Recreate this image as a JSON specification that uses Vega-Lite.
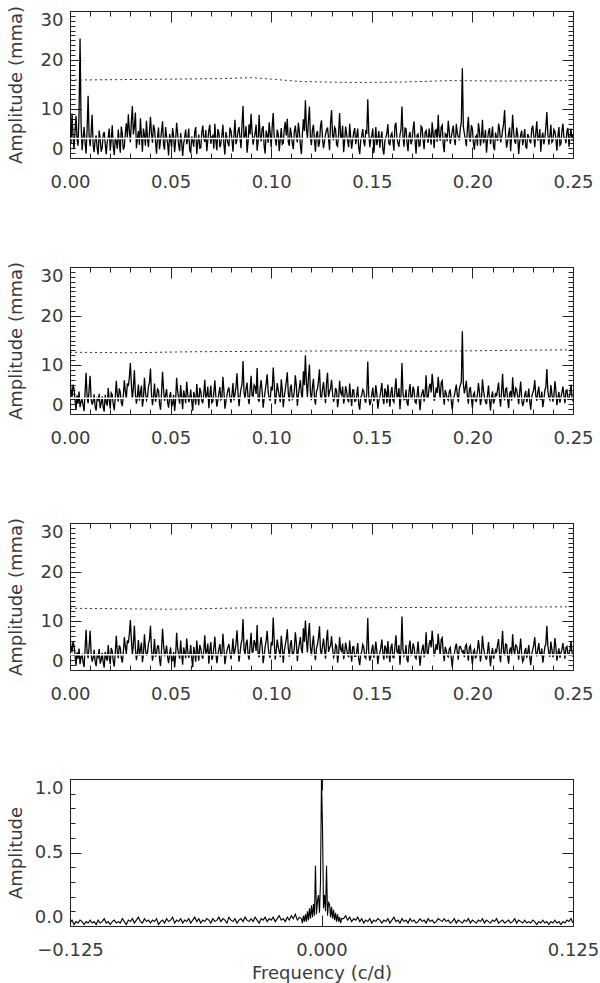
{
"$schema": "https://vega.github.io/schema/vega-lite/v6.json",
"background": "white",
"padding": {"left": 6, "top": 4, "right": 0, "bottom": 0},
"spacing": 109,
"bounds": "flush",
"config": {
  "view": {"stroke": "#222", "strokeWidth": 1},
  "axis": {"domain": false, "grid": false, "tickColor": "#222", "tickWidth": 1, "labelFont": "DejaVu Sans", "labelFontSize": 18, "labelColor": "#3a3a3a", "titleFont": "DejaVu Sans", "titleFontSize": 18, "titleFontWeight": "normal", "titleColor": "#3a3a3a", "labelOverlap": false}
},
"datasets": {
"s1": [{"f":0,"a":5.2},{"f":0.0005,"a":3.0},{"f":0.001,"a":9.1},{"f":0.0015,"a":4.4},{"f":0.002,"a":1.8},{"f":0.0025,"a":5.5},{"f":0.003,"a":8.6},{"f":0.0035,"a":3.9},{"f":0.004,"a":2.5},{"f":0.0045,"a":9.0},
{"f":0.005,"a":24.4},{"f":0.0055,"a":7.2},{"f":0.006,"a":1.6},{"f":0.0065,"a":4.0},{"f":0.007,"a":6.3},{"f":0.0075,"a":3.1},{"f":0.008,"a":0.9},{"f":0.0085,"a":5.8},{"f":0.009,"a":12.7},{"f":0.0095,"a":4.5},
{"f":0.01,"a":2.4},{"f":0.0105,"a":5.1},{"f":0.011,"a":8.8},{"f":0.0115,"a":2.6},{"f":0.012,"a":1.2},{"f":0.0125,"a":3.8},{"f":0.013,"a":4.6},{"f":0.0135,"a":2.0},{"f":0.014,"a":0.7},{"f":0.0145,"a":5.6},
{"f":0.015,"a":3.9},{"f":0.0155,"a":1.3},{"f":0.016,"a":2.1},{"f":0.0165,"a":4.7},{"f":0.017,"a":5.3},{"f":0.0175,"a":2.9},{"f":0.018,"a":0.8},{"f":0.0185,"a":3.3},{"f":0.019,"a":4.2},{"f":0.0195,"a":6.0},
{"f":0.02,"a":1.5},{"f":0.0205,"a":3.7},{"f":0.021,"a":6.7},{"f":0.0215,"a":2.4},{"f":0.022,"a":0.6},{"f":0.0225,"a":4.1},{"f":0.023,"a":3.4},{"f":0.0235,"a":1.9},{"f":0.024,"a":5.8},{"f":0.0245,"a":3.2},
{"f":0.025,"a":1.1},{"f":0.0255,"a":6.4},{"f":0.026,"a":4.9},{"f":0.0265,"a":1.7},{"f":0.027,"a":2.3},{"f":0.0275,"a":5.0},{"f":0.028,"a":7.1},{"f":0.0285,"a":4.2},{"f":0.029,"a":8.9},{"f":0.0295,"a":5.6},
{"f":0.03,"a":3.2},{"f":0.0305,"a":7.4},{"f":0.031,"a":10.6},{"f":0.0315,"a":4.8},{"f":0.032,"a":6.4},{"f":0.0325,"a":9.3},{"f":0.033,"a":2.0},{"f":0.0335,"a":3.9},{"f":0.034,"a":5.5},{"f":0.0345,"a":2.7},
{"f":0.035,"a":8.1},{"f":0.0355,"a":4.6},{"f":0.036,"a":1.3},{"f":0.0365,"a":6.0},{"f":0.037,"a":4.7},{"f":0.0375,"a":2.5},{"f":0.038,"a":7.6},{"f":0.0385,"a":4.0},{"f":0.039,"a":2.2},{"f":0.0395,"a":5.3},
{"f":0.04,"a":8.4},{"f":0.0405,"a":4.9},{"f":0.041,"a":3.1},{"f":0.0415,"a":6.8},{"f":0.042,"a":5.9},{"f":0.0425,"a":3.4},{"f":0.043,"a":0.9},{"f":0.0435,"a":4.2},{"f":0.044,"a":6.2},{"f":0.0445,"a":1.8},
{"f":0.045,"a":3.6},{"f":0.0455,"a":5.5},{"f":0.046,"a":7.5},{"f":0.0465,"a":2.6},{"f":0.047,"a":1.7},{"f":0.0475,"a":6.3},{"f":0.048,"a":4.4},{"f":0.0485,"a":3.0},{"f":0.049,"a":0.5},{"f":0.0495,"a":4.9},
{"f":0.05,"a":3.8},{"f":0.0505,"a":2.2},{"f":0.051,"a":6.1},{"f":0.0515,"a":4.5},{"f":0.052,"a":1.2},{"f":0.0525,"a":3.6},{"f":0.053,"a":7.2},{"f":0.0535,"a":5.0},{"f":0.054,"a":2.6},{"f":0.0545,"a":1.4},
{"f":0.055,"a":5.1},{"f":0.0555,"a":3.3},{"f":0.056,"a":0.4},{"f":0.0565,"a":2.9},{"f":0.057,"a":4.3},{"f":0.0575,"a":5.8},{"f":0.058,"a":2.8},{"f":0.0585,"a":3.7},{"f":0.059,"a":6.0},{"f":0.0595,"a":1.6},
{"f":0.06,"a":1.0},{"f":0.0605,"a":4.4},{"f":0.061,"a":3.5},{"f":0.0615,"a":2.3},{"f":0.062,"a":5.4},{"f":0.0625,"a":6.3},{"f":0.063,"a":0.8},{"f":0.0635,"a":3.1},{"f":0.064,"a":4.8},{"f":0.0645,"a":2.0},
{"f":0.065,"a":2.1},{"f":0.0655,"a":5.2},{"f":0.066,"a":6.6},{"f":0.0665,"a":4.0},{"f":0.067,"a":3.3},{"f":0.0675,"a":5.7},{"f":0.068,"a":1.4},{"f":0.0685,"a":3.6},{"f":0.069,"a":5.7},{"f":0.0695,"a":6.8},
{"f":0.07,"a":2.9},{"f":0.0705,"a":4.3},{"f":0.071,"a":4.6},{"f":0.0715,"a":1.9},{"f":0.072,"a":7.0},{"f":0.0725,"a":3.5},{"f":0.073,"a":1.6},{"f":0.0735,"a":5.9},{"f":0.074,"a":5.2},{"f":0.0745,"a":2.2},
{"f":0.075,"a":3.0},{"f":0.0755,"a":4.7},{"f":0.076,"a":6.8},{"f":0.0765,"a":2.7},{"f":0.077,"a":0.7},{"f":0.0775,"a":5.3},{"f":0.078,"a":4.1},{"f":0.0785,"a":3.0},{"f":0.079,"a":2.4},{"f":0.0795,"a":6.2},
{"f":0.08,"a":5.6},{"f":0.0805,"a":3.8},{"f":0.081,"a":1.3},{"f":0.0815,"a":4.6},{"f":0.082,"a":7.8},{"f":0.0825,"a":2.8},{"f":0.083,"a":3.7},{"f":0.0835,"a":5.5},{"f":0.084,"a":6.3},{"f":0.0845,"a":4.1},
{"f":0.085,"a":2.0},{"f":0.0855,"a":7.0},{"f":0.086,"a":10.6},{"f":0.0865,"a":3.9},{"f":0.087,"a":4.5},{"f":0.0875,"a":6.5},{"f":0.088,"a":1.1},{"f":0.0885,"a":3.2},{"f":0.089,"a":6.9},{"f":0.0895,"a":4.8},
{"f":0.09,"a":9.0},{"f":0.0905,"a":5.3},{"f":0.091,"a":2.7},{"f":0.0915,"a":4.0},{"f":0.092,"a":5.0},{"f":0.0925,"a":6.8},{"f":0.093,"a":1.5},{"f":0.0935,"a":3.4},{"f":0.094,"a":8.8},{"f":0.0945,"a":4.5},
{"f":0.095,"a":3.4},{"f":0.0955,"a":6.0},{"f":0.096,"a":6.5},{"f":0.0965,"a":2.4},{"f":0.097,"a":0.9},{"f":0.0975,"a":5.6},{"f":0.098,"a":4.7},{"f":0.0985,"a":3.1},{"f":0.099,"a":7.3},{"f":0.0995,"a":5.0},
{"f":0.1,"a":2.2},{"f":0.1005,"a":6.4},{"f":0.101,"a":9.2},{"f":0.1015,"a":4.3},{"f":0.102,"a":3.9},{"f":0.1025,"a":2.5},{"f":0.103,"a":5.8},{"f":0.1035,"a":4.9},{"f":0.104,"a":1.4},{"f":0.1045,"a":3.7},
{"f":0.105,"a":6.1},{"f":0.1055,"a":2.8},{"f":0.106,"a":3.0},{"f":0.1065,"a":5.9},{"f":0.107,"a":7.4},{"f":0.1075,"a":4.6},{"f":0.108,"a":8.0},{"f":0.1085,"a":3.3},{"f":0.109,"a":2.5},{"f":0.1095,"a":6.2},
{"f":0.11,"a":4.9},{"f":0.1105,"a":3.0},{"f":0.111,"a":1.8},{"f":0.1115,"a":5.4},{"f":0.112,"a":6.6},{"f":0.1125,"a":4.4},{"f":0.113,"a":3.2},{"f":0.1135,"a":7.2},{"f":0.114,"a":5.4},{"f":0.1145,"a":2.6},
{"f":0.115,"a":0.8},{"f":0.1155,"a":4.8},{"f":0.116,"a":7.9},{"f":0.1165,"a":5.5},{"f":0.117,"a":11.8},{"f":0.1175,"a":6.1},{"f":0.118,"a":4.0},{"f":0.1185,"a":7.5},{"f":0.119,"a":10.5},{"f":0.1195,"a":4.2},
{"f":0.12,"a":2.6},{"f":0.1205,"a":5.8},{"f":0.121,"a":6.8},{"f":0.1215,"a":3.6},{"f":0.122,"a":1.3},{"f":0.1225,"a":4.9},{"f":0.123,"a":5.5},{"f":0.1235,"a":2.3},{"f":0.124,"a":3.1},{"f":0.1245,"a":6.5},
{"f":0.125,"a":7.7},{"f":0.1255,"a":4.0},{"f":0.126,"a":2.0},{"f":0.1265,"a":3.4},{"f":0.127,"a":4.8},{"f":0.1275,"a":5.7},{"f":0.128,"a":6.2},{"f":0.1285,"a":3.9},{"f":0.129,"a":1.6},{"f":0.1295,"a":7.1},
{"f":0.13,"a":9.8},{"f":0.1305,"a":4.6},{"f":0.131,"a":3.6},{"f":0.1315,"a":6.3},{"f":0.132,"a":5.9},{"f":0.1325,"a":2.7},{"f":0.133,"a":2.4},{"f":0.1335,"a":5.0},{"f":0.134,"a":9.2},{"f":0.1345,"a":4.2},
{"f":0.135,"a":4.1},{"f":0.1355,"a":6.6},{"f":0.136,"a":1.2},{"f":0.1365,"a":3.5},{"f":0.137,"a":6.4},{"f":0.1375,"a":4.8},{"f":0.138,"a":3.5},{"f":0.1385,"a":2.2},{"f":0.139,"a":7.0},{"f":0.1395,"a":4.3},
{"f":0.14,"a":1.9},{"f":0.1405,"a":3.8},{"f":0.141,"a":5.2},{"f":0.1415,"a":6.1},{"f":0.142,"a":2.8},{"f":0.1425,"a":4.4},{"f":0.143,"a":6.0},{"f":0.1435,"a":2.1},{"f":0.144,"a":0.8},{"f":0.1445,"a":3.6},
{"f":0.145,"a":4.5},{"f":0.1455,"a":5.9},{"f":0.146,"a":3.3},{"f":0.1465,"a":2.4},{"f":0.147,"a":5.7},{"f":0.1475,"a":4.9},{"f":0.148,"a":12.0},{"f":0.1485,"a":5.2},{"f":0.149,"a":2.2},{"f":0.1495,"a":3.9},
{"f":0.15,"a":4.6},{"f":0.1505,"a":6.0},{"f":0.151,"a":1.0},{"f":0.1515,"a":3.3},{"f":0.152,"a":6.3},{"f":0.1525,"a":2.6},{"f":0.153,"a":3.8},{"f":0.1535,"a":5.5},{"f":0.154,"a":2.1},{"f":0.1545,"a":4.0},
{"f":0.155,"a":5.4},{"f":0.1555,"a":1.8},{"f":0.156,"a":0.7},{"f":0.1565,"a":3.5},{"f":0.157,"a":4.2},{"f":0.1575,"a":5.1},{"f":0.158,"a":6.9},{"f":0.1585,"a":2.9},{"f":0.159,"a":2.7},{"f":0.1595,"a":4.6},
{"f":0.16,"a":5.1},{"f":0.1605,"a":3.4},{"f":0.161,"a":1.5},{"f":0.1615,"a":6.6},{"f":0.162,"a":7.2},{"f":0.1625,"a":4.1},{"f":0.163,"a":3.0},{"f":0.1635,"a":2.3},{"f":0.164,"a":4.7},{"f":0.1645,"a":5.8},
{"f":0.165,"a":10.5},{"f":0.1655,"a":4.4},{"f":0.166,"a":2.3},{"f":0.1665,"a":6.1},{"f":0.167,"a":6.0},{"f":0.1675,"a":3.2},{"f":0.168,"a":1.4},{"f":0.1685,"a":4.5},{"f":0.169,"a":5.3},{"f":0.1695,"a":2.8},
{"f":0.17,"a":3.6},{"f":0.1705,"a":5.9},{"f":0.171,"a":7.5},{"f":0.1715,"a":3.6},{"f":0.172,"a":0.9},{"f":0.1725,"a":4.7},{"f":0.173,"a":4.9},{"f":0.1735,"a":2.4},{"f":0.174,"a":2.6},{"f":0.1745,"a":6.5},
{"f":0.175,"a":6.2},{"f":0.1755,"a":3.7},{"f":0.176,"a":1.8},{"f":0.1765,"a":5.2},{"f":0.177,"a":5.6},{"f":0.1775,"a":4.1},{"f":0.178,"a":3.1},{"f":0.1785,"a":6.0},{"f":0.179,"a":4.4},{"f":0.1795,"a":2.7},
{"f":0.18,"a":7.3},{"f":0.1805,"a":4.9},{"f":0.181,"a":2.0},{"f":0.1815,"a":5.6},{"f":0.182,"a":5.8},{"f":0.1825,"a":3.3},{"f":0.183,"a":8.8},{"f":0.1835,"a":4.6},{"f":0.184,"a":3.5},{"f":0.1845,"a":6.3},
{"f":0.185,"a":6.7},{"f":0.1855,"a":2.8},{"f":0.186,"a":1.2},{"f":0.1865,"a":5.0},{"f":0.187,"a":4.8},{"f":0.1875,"a":3.4},{"f":0.188,"a":7.6},{"f":0.1885,"a":5.5},{"f":0.189,"a":2.9},{"f":0.1895,"a":4.2},
{"f":0.19,"a":5.5},{"f":0.1905,"a":6.6},{"f":0.191,"a":3.8},{"f":0.1915,"a":2.6},{"f":0.192,"a":7.0},{"f":0.1925,"a":5.1},{"f":0.193,"a":4.2},{"f":0.1935,"a":3.6},{"f":0.194,"a":6.1},{"f":0.1945,"a":7.3},
{"f":0.195,"a":18.3},{"f":0.1955,"a":6.4},{"f":0.196,"a":5.0},{"f":0.1965,"a":3.8},{"f":0.197,"a":2.4},{"f":0.1975,"a":5.9},{"f":0.198,"a":8.4},{"f":0.1985,"a":4.0},{"f":0.199,"a":3.3},{"f":0.1995,"a":6.7},
{"f":0.2,"a":6.0},{"f":0.2005,"a":3.1},{"f":0.201,"a":1.7},{"f":0.2015,"a":4.3},{"f":0.202,"a":4.6},{"f":0.2025,"a":2.5},{"f":0.203,"a":7.1},{"f":0.2035,"a":5.6},{"f":0.204,"a":2.5},{"f":0.2045,"a":4.1},
{"f":0.205,"a":7.8},{"f":0.2055,"a":3.0},{"f":0.206,"a":3.9},{"f":0.2065,"a":5.7},{"f":0.207,"a":1.1},{"f":0.2075,"a":3.6},{"f":0.208,"a":5.3},{"f":0.2085,"a":6.1},{"f":0.209,"a":2.8},{"f":0.2095,"a":4.4},
{"f":0.21,"a":6.4},{"f":0.2105,"a":2.3},{"f":0.211,"a":1.6},{"f":0.2115,"a":5.2},{"f":0.212,"a":4.1},{"f":0.2125,"a":3.5},{"f":0.213,"a":7.0},{"f":0.2135,"a":5.9},{"f":0.214,"a":3.2},{"f":0.2145,"a":4.0},
{"f":0.215,"a":5.7},{"f":0.2155,"a":6.9},{"f":0.216,"a":9.8},{"f":0.2165,"a":4.7},{"f":0.217,"a":2.1},{"f":0.2175,"a":3.4},{"f":0.218,"a":5.0},{"f":0.2185,"a":6.2},{"f":0.219,"a":1.4},{"f":0.2195,"a":4.6},
{"f":0.22,"a":8.8},{"f":0.2205,"a":5.3},{"f":0.221,"a":3.4},{"f":0.2215,"a":2.9},{"f":0.222,"a":6.2},{"f":0.2225,"a":4.8},{"f":0.223,"a":0.8},{"f":0.2235,"a":3.3},{"f":0.224,"a":4.7},{"f":0.2245,"a":5.6},
{"f":0.225,"a":2.6},{"f":0.2255,"a":4.1},{"f":0.226,"a":5.9},{"f":0.2265,"a":2.4},{"f":0.227,"a":1.9},{"f":0.2275,"a":4.9},{"f":0.228,"a":4.3},{"f":0.2285,"a":3.6},{"f":0.229,"a":3.0},{"f":0.2295,"a":6.0},
{"f":0.23,"a":6.6},{"f":0.2305,"a":4.5},{"f":0.231,"a":2.2},{"f":0.2315,"a":5.1},{"f":0.232,"a":7.5},{"f":0.2325,"a":3.7},{"f":0.233,"a":3.8},{"f":0.2335,"a":5.9},{"f":0.234,"a":1.3},{"f":0.2345,"a":4.2},
{"f":0.235,"a":5.2},{"f":0.2355,"a":2.8},{"f":0.236,"a":4.0},{"f":0.2365,"a":6.3},{"f":0.237,"a":9.4},{"f":0.2375,"a":5.0},{"f":0.238,"a":2.7},{"f":0.2385,"a":4.4},{"f":0.239,"a":6.8},{"f":0.2395,"a":3.2},
{"f":0.24,"a":3.5},{"f":0.2405,"a":5.8},{"f":0.241,"a":5.4},{"f":0.2415,"a":3.9},{"f":0.242,"a":1.5},{"f":0.2425,"a":4.6},{"f":0.243,"a":6.3},{"f":0.2435,"a":2.6},{"f":0.244,"a":2.9},{"f":0.2445,"a":5.5},
{"f":0.245,"a":7.0},{"f":0.2455,"a":4.1},{"f":0.246,"a":4.1},{"f":0.2465,"a":3.0},{"f":0.247,"a":5.6},{"f":0.2475,"a":6.1},{"f":0.248,"a":2.3},{"f":0.2485,"a":4.3},{"f":0.249,"a":6.0},{"f":0.2495,"a":3.5},{"f":0.25,"a":4.8}],
"s2": [{"f":0,"a":7.1},{"f":0.0005,"a":4.9},{"f":0.001,"a":3.4},{"f":0.0015,"a":6.0},{"f":0.002,"a":5.2},{"f":0.0025,"a":2.9},{"f":0.003,"a":0.8},{"f":0.0035,"a":3.8},{"f":0.004,"a":2.1},{"f":0.0045,"a":4.6},
{"f":0.005,"a":1.4},{"f":0.0055,"a":2.5},{"f":0.006,"a":3.0},{"f":0.0065,"a":1.8},{"f":0.007,"a":0.6},{"f":0.0075,"a":4.4},{"f":0.008,"a":8.4},{"f":0.0085,"a":3.5},{"f":0.009,"a":2.2},{"f":0.0095,"a":5.0},
{"f":0.01,"a":7.8},{"f":0.0105,"a":3.1},{"f":0.011,"a":1.9},{"f":0.0115,"a":2.6},{"f":0.012,"a":4.0},{"f":0.0125,"a":1.5},{"f":0.013,"a":0.7},{"f":0.0135,"a":3.2},{"f":0.014,"a":2.8},{"f":0.0145,"a":4.1},
{"f":0.015,"a":1.2},{"f":0.0155,"a":2.2},{"f":0.016,"a":3.6},{"f":0.0165,"a":1.4},{"f":0.017,"a":0.5},{"f":0.0175,"a":3.9},{"f":0.018,"a":2.4},{"f":0.0185,"a":1.7},{"f":0.019,"a":5.3},{"f":0.0195,"a":2.8},
{"f":0.02,"a":1.1},{"f":0.0205,"a":4.3},{"f":0.021,"a":3.9},{"f":0.0215,"a":2.0},{"f":0.022,"a":0.8},{"f":0.0225,"a":3.3},{"f":0.023,"a":6.8},{"f":0.0235,"a":4.0},{"f":0.024,"a":2.5},{"f":0.0245,"a":5.2},
{"f":0.025,"a":4.4},{"f":0.0255,"a":2.3},{"f":0.026,"a":1.6},{"f":0.0265,"a":3.7},{"f":0.027,"a":6.9},{"f":0.0275,"a":4.6},{"f":0.028,"a":3.2},{"f":0.0285,"a":6.2},{"f":0.029,"a":5.7},{"f":0.0295,"a":7.5},
{"f":0.03,"a":10.4},{"f":0.0305,"a":6.1},{"f":0.031,"a":3.0},{"f":0.0315,"a":5.4},{"f":0.032,"a":8.9},{"f":0.0325,"a":4.2},{"f":0.033,"a":2.1},{"f":0.0335,"a":3.6},{"f":0.034,"a":6.0},{"f":0.0345,"a":2.7},
{"f":0.035,"a":4.3},{"f":0.0355,"a":5.8},{"f":0.036,"a":1.5},{"f":0.0365,"a":3.0},{"f":0.037,"a":7.4},{"f":0.0375,"a":4.5},{"f":0.038,"a":2.8},{"f":0.0385,"a":3.3},{"f":0.039,"a":5.6},{"f":0.0395,"a":6.4},
{"f":0.04,"a":9.3},{"f":0.0405,"a":4.0},{"f":0.041,"a":1.8},{"f":0.0415,"a":3.7},{"f":0.042,"a":6.2},{"f":0.0425,"a":2.5},{"f":0.043,"a":3.5},{"f":0.0435,"a":5.1},{"f":0.044,"a":4.8},{"f":0.0445,"a":2.0},
{"f":0.045,"a":0.9},{"f":0.0455,"a":4.3},{"f":0.046,"a":8.6},{"f":0.0465,"a":5.0},{"f":0.047,"a":2.7},{"f":0.0475,"a":3.8},{"f":0.048,"a":5.1},{"f":0.0485,"a":2.4},{"f":0.049,"a":1.3},{"f":0.0495,"a":3.5},
{"f":0.05,"a":4.5},{"f":0.0505,"a":1.6},{"f":0.051,"a":2.0},{"f":0.0515,"a":3.9},{"f":0.052,"a":0.6},{"f":0.0525,"a":2.8},{"f":0.053,"a":7.4},{"f":0.0535,"a":4.6},{"f":0.054,"a":3.3},{"f":0.0545,"a":2.1},
{"f":0.055,"a":5.9},{"f":0.0555,"a":3.4},{"f":0.056,"a":1.0},{"f":0.0565,"a":4.8},{"f":0.057,"a":3.7},{"f":0.0575,"a":2.2},{"f":0.058,"a":6.6},{"f":0.0585,"a":4.1},{"f":0.059,"a":2.4},{"f":0.0595,"a":3.0},
{"f":0.06,"a":5.0},{"f":0.0605,"a":2.6},{"f":0.061,"a":0.7},{"f":0.0615,"a":4.5},{"f":0.062,"a":3.4},{"f":0.0625,"a":1.9},{"f":0.063,"a":6.1},{"f":0.0635,"a":3.6},{"f":0.064,"a":1.8},{"f":0.0645,"a":5.3},
{"f":0.065,"a":4.6},{"f":0.0655,"a":2.7},{"f":0.066,"a":2.2},{"f":0.0665,"a":4.2},{"f":0.067,"a":7.0},{"f":0.0675,"a":3.1},{"f":0.068,"a":3.9},{"f":0.0685,"a":5.6},{"f":0.069,"a":1.2},{"f":0.0695,"a":3.8},
{"f":0.07,"a":5.8},{"f":0.0705,"a":2.3},{"f":0.071,"a":2.6},{"f":0.0715,"a":4.4},{"f":0.072,"a":6.9},{"f":0.0725,"a":3.5},{"f":0.073,"a":1.5},{"f":0.0735,"a":2.9},{"f":0.074,"a":4.2},{"f":0.0745,"a":5.5},
{"f":0.075,"a":2.9},{"f":0.0755,"a":3.2},{"f":0.076,"a":7.6},{"f":0.0765,"a":4.7},{"f":0.077,"a":1.1},{"f":0.0775,"a":2.5},{"f":0.078,"a":3.8},{"f":0.0785,"a":4.9},{"f":0.079,"a":5.4},{"f":0.0795,"a":3.3},
{"f":0.08,"a":2.3},{"f":0.0805,"a":4.0},{"f":0.081,"a":6.3},{"f":0.0815,"a":2.8},{"f":0.082,"a":4.0},{"f":0.0825,"a":5.6},{"f":0.083,"a":8.3},{"f":0.0835,"a":4.3},{"f":0.084,"a":1.6},{"f":0.0845,"a":3.6},
{"f":0.085,"a":5.2},{"f":0.0855,"a":6.0},{"f":0.086,"a":10.8},{"f":0.0865,"a":4.4},{"f":0.087,"a":3.1},{"f":0.0875,"a":5.2},{"f":0.088,"a":6.4},{"f":0.0885,"a":3.4},{"f":0.089,"a":2.0},{"f":0.0895,"a":4.7},
{"f":0.09,"a":7.8},{"f":0.0905,"a":3.8},{"f":0.091,"a":3.6},{"f":0.0915,"a":5.9},{"f":0.092,"a":5.5},{"f":0.0925,"a":4.1},{"f":0.093,"a":9.4},{"f":0.0935,"a":3.0},{"f":0.094,"a":2.5},{"f":0.0945,"a":5.3},
{"f":0.095,"a":6.9},{"f":0.0955,"a":4.6},{"f":0.096,"a":1.3},{"f":0.0965,"a":3.2},{"f":0.097,"a":4.7},{"f":0.0975,"a":6.2},{"f":0.098,"a":8.1},{"f":0.0985,"a":4.5},{"f":0.099,"a":3.2},{"f":0.0995,"a":2.7},
{"f":0.1,"a":5.6},{"f":0.1005,"a":4.8},{"f":0.101,"a":9.5},{"f":0.1015,"a":6.1},{"f":0.102,"a":2.0},{"f":0.1025,"a":3.7},{"f":0.103,"a":6.3},{"f":0.1035,"a":4.9},{"f":0.104,"a":3.7},{"f":0.1045,"a":2.4},
{"f":0.105,"a":7.1},{"f":0.1055,"a":5.0},{"f":0.106,"a":1.4},{"f":0.1065,"a":3.6},{"f":0.107,"a":5.0},{"f":0.1075,"a":6.6},{"f":0.108,"a":8.5},{"f":0.1085,"a":4.2},{"f":0.109,"a":2.6},{"f":0.1095,"a":5.4},
{"f":0.11,"a":6.0},{"f":0.1105,"a":3.0},{"f":0.111,"a":3.3},{"f":0.1115,"a":4.6},{"f":0.112,"a":7.9},{"f":0.1125,"a":5.8},{"f":0.113,"a":1.7},{"f":0.1135,"a":3.9},{"f":0.114,"a":5.4},{"f":0.1145,"a":6.9},
{"f":0.115,"a":4.1},{"f":0.1155,"a":3.2},{"f":0.116,"a":8.7},{"f":0.1165,"a":5.9},{"f":0.117,"a":12.0},{"f":0.1175,"a":6.5},{"f":0.118,"a":3.5},{"f":0.1185,"a":7.4},{"f":0.119,"a":10.1},{"f":0.1195,"a":4.3},
{"f":0.12,"a":2.8},{"f":0.1205,"a":5.5},{"f":0.121,"a":7.2},{"f":0.1215,"a":3.4},{"f":0.122,"a":1.9},{"f":0.1225,"a":4.6},{"f":0.123,"a":5.1},{"f":0.1235,"a":6.8},{"f":0.124,"a":9.1},{"f":0.1245,"a":3.8},
{"f":0.125,"a":3.0},{"f":0.1255,"a":5.1},{"f":0.126,"a":6.5},{"f":0.1265,"a":4.0},{"f":0.127,"a":2.2},{"f":0.1275,"a":6.3},{"f":0.128,"a":8.4},{"f":0.1285,"a":3.5},{"f":0.129,"a":4.6},{"f":0.1295,"a":5.2},
{"f":0.13,"a":7.0},{"f":0.1305,"a":4.1},{"f":0.131,"a":2.5},{"f":0.1315,"a":3.3},{"f":0.132,"a":5.3},{"f":0.1325,"a":4.7},{"f":0.133,"a":1.4},{"f":0.1335,"a":2.9},{"f":0.134,"a":6.8},{"f":0.1345,"a":4.4},
{"f":0.135,"a":3.9},{"f":0.1355,"a":5.6},{"f":0.136,"a":2.1},{"f":0.1365,"a":3.2},{"f":0.137,"a":5.7},{"f":0.1375,"a":4.5},{"f":0.138,"a":3.0},{"f":0.1385,"a":2.4},{"f":0.139,"a":6.2},{"f":0.1395,"a":3.7},
{"f":0.14,"a":1.6},{"f":0.1405,"a":4.9},{"f":0.141,"a":4.9},{"f":0.1415,"a":2.6},{"f":0.142,"a":2.7},{"f":0.1425,"a":3.8},{"f":0.143,"a":5.6},{"f":0.1435,"a":2.0},{"f":0.144,"a":0.9},{"f":0.1445,"a":3.4},
{"f":0.145,"a":3.8},{"f":0.1455,"a":5.0},{"f":0.146,"a":4.6},{"f":0.1465,"a":2.9},{"f":0.147,"a":2.3},{"f":0.1475,"a":4.3},{"f":0.148,"a":10.7},{"f":0.1485,"a":3.7},{"f":0.149,"a":1.8},{"f":0.1495,"a":2.5},
{"f":0.15,"a":4.0},{"f":0.1505,"a":5.4},{"f":0.151,"a":2.6},{"f":0.1515,"a":3.3},{"f":0.152,"a":5.9},{"f":0.1525,"a":4.1},{"f":0.153,"a":1.1},{"f":0.1535,"a":2.7},{"f":0.154,"a":3.4},{"f":0.1545,"a":4.8},
{"f":0.155,"a":6.3},{"f":0.1555,"a":3.1},{"f":0.156,"a":2.0},{"f":0.1565,"a":5.2},{"f":0.157,"a":4.5},{"f":0.1575,"a":2.2},{"f":0.158,"a":6.0},{"f":0.1585,"a":3.6},{"f":0.159,"a":1.5},{"f":0.1595,"a":4.4},
{"f":0.16,"a":5.5},{"f":0.1605,"a":2.8},{"f":0.161,"a":2.4},{"f":0.1615,"a":4.9},{"f":0.162,"a":7.3},{"f":0.1625,"a":3.5},{"f":0.163,"a":3.6},{"f":0.1635,"a":5.3},{"f":0.164,"a":1.0},{"f":0.1645,"a":3.9},
{"f":0.165,"a":10.4},{"f":0.1655,"a":4.2},{"f":0.166,"a":2.9},{"f":0.1665,"a":3.0},{"f":0.167,"a":5.0},{"f":0.1675,"a":2.3},{"f":0.168,"a":1.7},{"f":0.1685,"a":4.6},{"f":0.169,"a":6.1},{"f":0.1695,"a":3.2},
{"f":0.17,"a":3.1},{"f":0.1705,"a":5.6},{"f":0.171,"a":4.8},{"f":0.1715,"a":2.5},{"f":0.172,"a":2.2},{"f":0.1725,"a":3.8},{"f":0.173,"a":5.7},{"f":0.1735,"a":2.9},{"f":0.174,"a":0.8},{"f":0.1745,"a":3.5},
{"f":0.175,"a":4.3},{"f":0.1755,"a":5.0},{"f":0.176,"a":2.5},{"f":0.1765,"a":4.1},{"f":0.177,"a":7.9},{"f":0.1775,"a":3.3},{"f":0.178,"a":3.4},{"f":0.1785,"a":5.5},{"f":0.179,"a":6.2},{"f":0.1795,"a":4.4},
{"f":0.18,"a":8.2},{"f":0.1805,"a":5.9},{"f":0.181,"a":2.7},{"f":0.1815,"a":3.6},{"f":0.182,"a":5.4},{"f":0.1825,"a":4.3},{"f":0.183,"a":7.6},{"f":0.1835,"a":5.2},{"f":0.184,"a":3.0},{"f":0.1845,"a":6.4},
{"f":0.185,"a":6.8},{"f":0.1855,"a":3.8},{"f":0.186,"a":1.9},{"f":0.1865,"a":4.9},{"f":0.187,"a":4.1},{"f":0.1875,"a":3.1},{"f":0.188,"a":2.8},{"f":0.1885,"a":4.5},{"f":0.189,"a":5.0},{"f":0.1895,"a":2.6},
{"f":0.19,"a":0.9},{"f":0.1905,"a":3.3},{"f":0.191,"a":3.6},{"f":0.1915,"a":4.8},{"f":0.192,"a":6.0},{"f":0.1925,"a":3.9},{"f":0.193,"a":2.4},{"f":0.1935,"a":5.1},{"f":0.194,"a":5.9},{"f":0.1945,"a":6.6},
{"f":0.195,"a":16.9},{"f":0.1955,"a":6.2},{"f":0.196,"a":4.2},{"f":0.1965,"a":5.4},{"f":0.197,"a":6.8},{"f":0.1975,"a":3.7},{"f":0.198,"a":2.1},{"f":0.1985,"a":4.9},{"f":0.199,"a":5.5},{"f":0.1995,"a":3.2},
{"f":0.2,"a":1.3},{"f":0.2005,"a":4.0},{"f":0.201,"a":4.4},{"f":0.2015,"a":2.7},{"f":0.202,"a":2.6},{"f":0.2025,"a":3.9},{"f":0.203,"a":6.3},{"f":0.2035,"a":4.5},{"f":0.204,"a":1.8},{"f":0.2045,"a":3.0},
{"f":0.205,"a":7.1},{"f":0.2055,"a":4.8},{"f":0.206,"a":3.5},{"f":0.2065,"a":2.5},{"f":0.207,"a":2.0},{"f":0.2075,"a":3.8},{"f":0.208,"a":5.8},{"f":0.2085,"a":2.9},{"f":0.209,"a":0.7},{"f":0.2095,"a":3.4},
{"f":0.21,"a":4.6},{"f":0.2105,"a":2.1},{"f":0.211,"a":2.9},{"f":0.2115,"a":4.3},{"f":0.212,"a":3.6},{"f":0.2125,"a":5.0},{"f":0.213,"a":6.4},{"f":0.2135,"a":3.3},{"f":0.214,"a":1.5},{"f":0.2145,"a":4.6},
{"f":0.215,"a":8.2},{"f":0.2155,"a":3.9},{"f":0.216,"a":2.8},{"f":0.2165,"a":5.1},{"f":0.217,"a":5.3},{"f":0.2175,"a":3.0},{"f":0.218,"a":1.2},{"f":0.2185,"a":4.2},{"f":0.219,"a":4.7},{"f":0.2195,"a":2.7},
{"f":0.22,"a":7.5},{"f":0.2205,"a":4.4},{"f":0.221,"a":3.2},{"f":0.2215,"a":5.3},{"f":0.222,"a":5.0},{"f":0.2225,"a":3.6},{"f":0.223,"a":2.0},{"f":0.2235,"a":4.5},{"f":0.224,"a":6.6},{"f":0.2245,"a":3.0},
{"f":0.225,"a":1.6},{"f":0.2255,"a":2.4},{"f":0.226,"a":3.9},{"f":0.2265,"a":4.7},{"f":0.227,"a":2.4},{"f":0.2275,"a":3.3},{"f":0.228,"a":5.2},{"f":0.2285,"a":2.6},{"f":0.229,"a":0.9},{"f":0.2295,"a":3.5},
{"f":0.23,"a":4.3},{"f":0.2305,"a":5.0},{"f":0.231,"a":6.9},{"f":0.2315,"a":3.8},{"f":0.232,"a":2.7},{"f":0.2325,"a":4.4},{"f":0.233,"a":5.6},{"f":0.2335,"a":3.1},{"f":0.234,"a":3.0},{"f":0.2345,"a":4.6},
{"f":0.235,"a":1.4},{"f":0.2355,"a":2.8},{"f":0.236,"a":4.8},{"f":0.2365,"a":5.5},{"f":0.237,"a":9.2},{"f":0.2375,"a":4.7},{"f":0.238,"a":3.3},{"f":0.2385,"a":2.9},{"f":0.239,"a":5.9},{"f":0.2395,"a":4.1},
{"f":0.24,"a":2.5},{"f":0.2405,"a":3.6},{"f":0.241,"a":6.7},{"f":0.2415,"a":4.9},{"f":0.242,"a":1.8},{"f":0.2425,"a":3.2},{"f":0.243,"a":4.5},{"f":0.2435,"a":2.3},{"f":0.244,"a":3.4},{"f":0.2445,"a":4.4},
{"f":0.245,"a":5.6},{"f":0.2455,"a":3.7},{"f":0.246,"a":2.2},{"f":0.2465,"a":4.8},{"f":0.247,"a":4.9},{"f":0.2475,"a":3.0},{"f":0.248,"a":3.1},{"f":0.2485,"a":4.2},{"f":0.249,"a":6.0},{"f":0.2495,"a":3.4},{"f":0.25,"a":2.6}],
"s3": [{"f":0,"a":6.5},{"f":0.0005,"a":4.7},{"f":0.001,"a":3.6},{"f":0.0015,"a":5.8},{"f":0.002,"a":5.0},{"f":0.0025,"a":3.1},{"f":0.003,"a":0.9},{"f":0.0035,"a":3.6},{"f":0.004,"a":2.3},{"f":0.0045,"a":4.4},
{"f":0.005,"a":1.2},{"f":0.0055,"a":2.7},{"f":0.006,"a":3.1},{"f":0.0065,"a":1.6},{"f":0.007,"a":0.6},{"f":0.0075,"a":4.2},{"f":0.008,"a":8.2},{"f":0.0085,"a":3.7},{"f":0.009,"a":2.4},{"f":0.0095,"a":4.8},
{"f":0.01,"a":8.0},{"f":0.0105,"a":3.3},{"f":0.011,"a":1.7},{"f":0.0115,"a":2.4},{"f":0.012,"a":4.1},{"f":0.0125,"a":1.7},{"f":0.013,"a":0.8},{"f":0.0135,"a":3.0},{"f":0.014,"a":2.6},{"f":0.0145,"a":4.3},
{"f":0.015,"a":1.3},{"f":0.0155,"a":2.0},{"f":0.016,"a":3.5},{"f":0.0165,"a":1.6},{"f":0.017,"a":0.5},{"f":0.0175,"a":3.7},{"f":0.018,"a":2.5},{"f":0.0185,"a":1.9},{"f":0.019,"a":5.1},{"f":0.0195,"a":2.6},
{"f":0.02,"a":1.2},{"f":0.0205,"a":4.5},{"f":0.021,"a":3.8},{"f":0.0215,"a":1.8},{"f":0.022,"a":0.7},{"f":0.0225,"a":3.5},{"f":0.023,"a":7.0},{"f":0.0235,"a":3.8},{"f":0.024,"a":2.4},{"f":0.0245,"a":5.0},
{"f":0.025,"a":4.5},{"f":0.0255,"a":2.5},{"f":0.026,"a":1.5},{"f":0.0265,"a":3.5},{"f":0.027,"a":6.7},{"f":0.0275,"a":4.8},{"f":0.028,"a":3.3},{"f":0.0285,"a":6.0},{"f":0.029,"a":5.5},{"f":0.0295,"a":7.3},
{"f":0.03,"a":10.2},{"f":0.0305,"a":6.3},{"f":0.031,"a":3.1},{"f":0.0315,"a":5.2},{"f":0.032,"a":9.0},{"f":0.0325,"a":4.4},{"f":0.033,"a":2.0},{"f":0.0335,"a":3.4},{"f":0.034,"a":6.1},{"f":0.0345,"a":2.9},
{"f":0.035,"a":4.2},{"f":0.0355,"a":5.6},{"f":0.036,"a":1.6},{"f":0.0365,"a":3.2},{"f":0.037,"a":7.3},{"f":0.0375,"a":4.3},{"f":0.038,"a":2.9},{"f":0.0385,"a":3.5},{"f":0.039,"a":5.4},{"f":0.0395,"a":6.2},
{"f":0.04,"a":9.0},{"f":0.0405,"a":4.2},{"f":0.041,"a":1.9},{"f":0.0415,"a":3.5},{"f":0.042,"a":6.3},{"f":0.0425,"a":2.7},{"f":0.043,"a":3.4},{"f":0.0435,"a":4.9},{"f":0.044,"a":4.9},{"f":0.0445,"a":2.2},
{"f":0.045,"a":0.8},{"f":0.0455,"a":4.1},{"f":0.046,"a":8.4},{"f":0.0465,"a":5.2},{"f":0.047,"a":2.8},{"f":0.0475,"a":3.6},{"f":0.048,"a":5.0},{"f":0.0485,"a":2.6},{"f":0.049,"a":1.4},{"f":0.0495,"a":3.3},
{"f":0.05,"a":4.6},{"f":0.0505,"a":1.8},{"f":0.051,"a":1.9},{"f":0.0515,"a":3.7},{"f":0.052,"a":0.5},{"f":0.0525,"a":3.0},{"f":0.053,"a":7.6},{"f":0.0535,"a":4.4},{"f":0.054,"a":3.2},{"f":0.0545,"a":2.3},
{"f":0.055,"a":6.0},{"f":0.0555,"a":3.2},{"f":0.056,"a":1.1},{"f":0.0565,"a":4.6},{"f":0.057,"a":3.6},{"f":0.0575,"a":2.4},{"f":0.058,"a":6.4},{"f":0.0585,"a":3.9},{"f":0.059,"a":2.5},{"f":0.0595,"a":3.2},
{"f":0.06,"a":5.1},{"f":0.0605,"a":2.4},{"f":0.061,"a":0.6},{"f":0.0615,"a":4.7},{"f":0.062,"a":3.5},{"f":0.0625,"a":1.7},{"f":0.063,"a":6.0},{"f":0.0635,"a":3.8},{"f":0.064,"a":1.9},{"f":0.0645,"a":5.1},
{"f":0.065,"a":4.4},{"f":0.0655,"a":2.9},{"f":0.066,"a":2.3},{"f":0.0665,"a":4.0},{"f":0.067,"a":7.1},{"f":0.0675,"a":3.3},{"f":0.068,"a":3.8},{"f":0.0685,"a":5.4},{"f":0.069,"a":1.3},{"f":0.0695,"a":4.0},
{"f":0.07,"a":5.7},{"f":0.0705,"a":2.1},{"f":0.071,"a":2.7},{"f":0.0715,"a":4.6},{"f":0.072,"a":6.8},{"f":0.0725,"a":3.3},{"f":0.073,"a":1.4},{"f":0.0735,"a":3.1},{"f":0.074,"a":4.3},{"f":0.0745,"a":5.3},
{"f":0.075,"a":2.8},{"f":0.0755,"a":3.4},{"f":0.076,"a":7.4},{"f":0.0765,"a":4.5},{"f":0.077,"a":1.2},{"f":0.0775,"a":2.7},{"f":0.078,"a":3.9},{"f":0.0785,"a":4.7},{"f":0.079,"a":5.3},{"f":0.0795,"a":3.5},
{"f":0.08,"a":2.2},{"f":0.0805,"a":3.8},{"f":0.081,"a":6.4},{"f":0.0815,"a":3.0},{"f":0.082,"a":3.9},{"f":0.0825,"a":5.4},{"f":0.083,"a":8.1},{"f":0.0835,"a":4.5},{"f":0.084,"a":1.7},{"f":0.0845,"a":3.4},
{"f":0.085,"a":5.3},{"f":0.0855,"a":6.2},{"f":0.086,"a":10.4},{"f":0.0865,"a":4.2},{"f":0.087,"a":3.2},{"f":0.0875,"a":5.4},{"f":0.088,"a":6.2},{"f":0.0885,"a":3.2},{"f":0.089,"a":2.1},{"f":0.0895,"a":4.9},
{"f":0.09,"a":7.6},{"f":0.0905,"a":3.6},{"f":0.091,"a":3.7},{"f":0.0915,"a":6.1},{"f":0.092,"a":5.4},{"f":0.0925,"a":3.9},{"f":0.093,"a":9.2},{"f":0.0935,"a":3.2},{"f":0.094,"a":2.6},{"f":0.0945,"a":5.1},
{"f":0.095,"a":6.7},{"f":0.0955,"a":4.8},{"f":0.096,"a":1.4},{"f":0.0965,"a":3.0},{"f":0.097,"a":4.8},{"f":0.0975,"a":6.0},{"f":0.098,"a":8.0},{"f":0.0985,"a":4.7},{"f":0.099,"a":3.1},{"f":0.0995,"a":2.5},
{"f":0.1,"a":5.7},{"f":0.1005,"a":5.0},{"f":0.101,"a":10.7},{"f":0.1015,"a":5.9},{"f":0.102,"a":2.1},{"f":0.1025,"a":3.9},{"f":0.103,"a":6.2},{"f":0.1035,"a":4.7},{"f":0.104,"a":3.8},{"f":0.1045,"a":2.6},
{"f":0.105,"a":7.0},{"f":0.1055,"a":4.8},{"f":0.106,"a":1.5},{"f":0.1065,"a":3.8},{"f":0.107,"a":5.1},{"f":0.1075,"a":6.4},{"f":0.108,"a":8.3},{"f":0.1085,"a":4.4},{"f":0.109,"a":2.7},{"f":0.1095,"a":5.2},
{"f":0.11,"a":6.1},{"f":0.1105,"a":3.2},{"f":0.111,"a":3.2},{"f":0.1115,"a":4.4},{"f":0.112,"a":7.7},{"f":0.1125,"a":5.6},{"f":0.113,"a":1.8},{"f":0.1135,"a":4.1},{"f":0.114,"a":5.3},{"f":0.1145,"a":6.7},
{"f":0.115,"a":4.2},{"f":0.1155,"a":3.4},{"f":0.116,"a":8.5},{"f":0.1165,"a":5.7},{"f":0.117,"a":10.1},{"f":0.1175,"a":6.3},{"f":0.118,"a":3.6},{"f":0.1185,"a":7.2},{"f":0.119,"a":9.6},{"f":0.1195,"a":4.5},
{"f":0.12,"a":2.9},{"f":0.1205,"a":5.3},{"f":0.121,"a":7.0},{"f":0.1215,"a":3.6},{"f":0.122,"a":2.0},{"f":0.1225,"a":4.4},{"f":0.123,"a":5.2},{"f":0.1235,"a":6.6},{"f":0.124,"a":8.9},{"f":0.1245,"a":4.0},
{"f":0.125,"a":3.1},{"f":0.1255,"a":4.9},{"f":0.126,"a":6.4},{"f":0.1265,"a":4.2},{"f":0.127,"a":2.3},{"f":0.1275,"a":6.1},{"f":0.128,"a":8.2},{"f":0.1285,"a":3.7},{"f":0.129,"a":4.5},{"f":0.1295,"a":5.0},
{"f":0.13,"a":6.9},{"f":0.1305,"a":4.3},{"f":0.131,"a":2.6},{"f":0.1315,"a":3.1},{"f":0.132,"a":5.2},{"f":0.1325,"a":4.9},{"f":0.133,"a":1.5},{"f":0.1335,"a":3.1},{"f":0.134,"a":6.7},{"f":0.1345,"a":4.2},
{"f":0.135,"a":3.8},{"f":0.1355,"a":5.4},{"f":0.136,"a":2.2},{"f":0.1365,"a":3.4},{"f":0.137,"a":5.6},{"f":0.1375,"a":4.3},{"f":0.138,"a":3.1},{"f":0.1385,"a":2.6},{"f":0.139,"a":6.0},{"f":0.1395,"a":3.5},
{"f":0.14,"a":1.7},{"f":0.1405,"a":4.7},{"f":0.141,"a":4.8},{"f":0.1415,"a":2.8},{"f":0.142,"a":2.8},{"f":0.1425,"a":3.6},{"f":0.143,"a":5.5},{"f":0.1435,"a":2.2},{"f":0.144,"a":1.0},{"f":0.1445,"a":3.2},
{"f":0.145,"a":3.7},{"f":0.1455,"a":5.2},{"f":0.146,"a":4.7},{"f":0.1465,"a":2.7},{"f":0.147,"a":2.4},{"f":0.1475,"a":4.5},{"f":0.148,"a":10.6},{"f":0.1485,"a":3.5},{"f":0.149,"a":1.9},{"f":0.1495,"a":2.7},
{"f":0.15,"a":4.1},{"f":0.1505,"a":5.2},{"f":0.151,"a":2.5},{"f":0.1515,"a":3.5},{"f":0.152,"a":5.8},{"f":0.1525,"a":3.9},{"f":0.153,"a":1.2},{"f":0.1535,"a":2.9},{"f":0.154,"a":3.5},{"f":0.1545,"a":4.6},
{"f":0.155,"a":6.2},{"f":0.1555,"a":3.3},{"f":0.156,"a":2.1},{"f":0.1565,"a":5.0},{"f":0.157,"a":4.4},{"f":0.1575,"a":2.4},{"f":0.158,"a":5.9},{"f":0.1585,"a":3.4},{"f":0.159,"a":1.6},{"f":0.1595,"a":4.6},
{"f":0.16,"a":5.4},{"f":0.1605,"a":2.6},{"f":0.161,"a":2.5},{"f":0.1615,"a":4.7},{"f":0.162,"a":7.1},{"f":0.1625,"a":3.7},{"f":0.163,"a":3.5},{"f":0.1635,"a":5.1},{"f":0.164,"a":1.1},{"f":0.1645,"a":4.1},
{"f":0.165,"a":10.9},{"f":0.1655,"a":4.0},{"f":0.166,"a":2.8},{"f":0.1665,"a":3.2},{"f":0.167,"a":5.1},{"f":0.1675,"a":2.1},{"f":0.168,"a":1.6},{"f":0.1685,"a":4.8},{"f":0.169,"a":6.0},{"f":0.1695,"a":3.0},
{"f":0.17,"a":3.2},{"f":0.1705,"a":5.4},{"f":0.171,"a":4.7},{"f":0.1715,"a":2.7},{"f":0.172,"a":2.3},{"f":0.1725,"a":3.6},{"f":0.173,"a":5.8},{"f":0.1735,"a":3.1},{"f":0.174,"a":0.9},{"f":0.1745,"a":3.3},
{"f":0.175,"a":4.2},{"f":0.1755,"a":5.2},{"f":0.176,"a":2.6},{"f":0.1765,"a":3.9},{"f":0.177,"a":7.7},{"f":0.1775,"a":3.5},{"f":0.178,"a":3.3},{"f":0.1785,"a":5.3},{"f":0.179,"a":6.1},{"f":0.1795,"a":4.6},
{"f":0.18,"a":8.0},{"f":0.1805,"a":5.7},{"f":0.181,"a":2.8},{"f":0.1815,"a":3.8},{"f":0.182,"a":5.3},{"f":0.1825,"a":4.1},{"f":0.183,"a":7.4},{"f":0.1835,"a":5.0},{"f":0.184,"a":3.1},{"f":0.1845,"a":6.2},
{"f":0.185,"a":6.6},{"f":0.1855,"a":3.6},{"f":0.186,"a":1.8},{"f":0.1865,"a":4.7},{"f":0.187,"a":4.0},{"f":0.1875,"a":2.9},{"f":0.188,"a":2.7},{"f":0.1885,"a":4.3},{"f":0.189,"a":4.6},{"f":0.1895,"a":2.4},
{"f":0.19,"a":0.6},{"f":0.1905,"a":3.1},{"f":0.191,"a":3.2},{"f":0.1915,"a":4.5},{"f":0.192,"a":5.4},{"f":0.1925,"a":3.6},{"f":0.193,"a":2.1},{"f":0.1935,"a":4.7},{"f":0.194,"a":4.8},{"f":0.1945,"a":4.2},
{"f":0.195,"a":3.6},{"f":0.1955,"a":3.9},{"f":0.196,"a":2.6},{"f":0.1965,"a":4.8},{"f":0.197,"a":5.2},{"f":0.1975,"a":3.5},{"f":0.198,"a":1.9},{"f":0.1985,"a":4.6},{"f":0.199,"a":5.0},{"f":0.1995,"a":3.0},
{"f":0.2,"a":1.2},{"f":0.2005,"a":3.8},{"f":0.201,"a":4.2},{"f":0.2015,"a":2.5},{"f":0.202,"a":2.7},{"f":0.2025,"a":4.1},{"f":0.203,"a":6.1},{"f":0.2035,"a":4.3},{"f":0.204,"a":1.7},{"f":0.2045,"a":3.2},
{"f":0.205,"a":7.0},{"f":0.2055,"a":4.6},{"f":0.206,"a":3.4},{"f":0.2065,"a":2.7},{"f":0.207,"a":2.1},{"f":0.2075,"a":3.6},{"f":0.208,"a":5.7},{"f":0.2085,"a":3.1},{"f":0.209,"a":0.8},{"f":0.2095,"a":3.2},
{"f":0.21,"a":4.5},{"f":0.2105,"a":2.3},{"f":0.211,"a":3.0},{"f":0.2115,"a":4.1},{"f":0.212,"a":3.7},{"f":0.2125,"a":5.2},{"f":0.213,"a":6.3},{"f":0.2135,"a":3.1},{"f":0.214,"a":1.6},{"f":0.2145,"a":4.8},
{"f":0.215,"a":8.0},{"f":0.2155,"a":3.7},{"f":0.216,"a":2.9},{"f":0.2165,"a":5.3},{"f":0.217,"a":5.2},{"f":0.2175,"a":2.8},{"f":0.218,"a":1.3},{"f":0.2185,"a":4.0},{"f":0.219,"a":4.6},{"f":0.2195,"a":2.9},
{"f":0.22,"a":7.3},{"f":0.2205,"a":4.2},{"f":0.221,"a":3.3},{"f":0.2215,"a":5.1},{"f":0.222,"a":4.9},{"f":0.2225,"a":3.8},{"f":0.223,"a":2.1},{"f":0.2235,"a":4.3},{"f":0.224,"a":6.4},{"f":0.2245,"a":3.2},
{"f":0.225,"a":1.7},{"f":0.2255,"a":2.2},{"f":0.226,"a":3.8},{"f":0.2265,"a":4.5},{"f":0.227,"a":2.5},{"f":0.2275,"a":3.5},{"f":0.228,"a":5.1},{"f":0.2285,"a":2.8},{"f":0.229,"a":1.0},{"f":0.2295,"a":3.3},
{"f":0.23,"a":4.2},{"f":0.2305,"a":5.2},{"f":0.231,"a":6.7},{"f":0.2315,"a":3.6},{"f":0.232,"a":2.8},{"f":0.2325,"a":4.2},{"f":0.233,"a":5.5},{"f":0.2335,"a":3.3},{"f":0.234,"a":3.1},{"f":0.2345,"a":4.4},
{"f":0.235,"a":1.5},{"f":0.2355,"a":3.0},{"f":0.236,"a":4.7},{"f":0.2365,"a":5.3},{"f":0.237,"a":9.0},{"f":0.2375,"a":4.9},{"f":0.238,"a":3.4},{"f":0.2385,"a":2.7},{"f":0.239,"a":5.8},{"f":0.2395,"a":4.3},
{"f":0.24,"a":2.6},{"f":0.2405,"a":3.4},{"f":0.241,"a":6.5},{"f":0.2415,"a":4.7},{"f":0.242,"a":1.9},{"f":0.2425,"a":3.4},{"f":0.243,"a":4.4},{"f":0.2435,"a":2.5},{"f":0.244,"a":3.5},{"f":0.2445,"a":4.2},
{"f":0.245,"a":5.5},{"f":0.2455,"a":3.9},{"f":0.246,"a":2.3},{"f":0.2465,"a":4.6},{"f":0.247,"a":4.8},{"f":0.2475,"a":3.2},{"f":0.248,"a":3.2},{"f":0.2485,"a":4.0},{"f":0.249,"a":5.9},{"f":0.2495,"a":3.6},{"f":0.25,"a":2.7}],
"w": [{"f":-0.125,"a":0.02},{"f":-0.124,"a":0.04},{"f":-0.123,"a":0.01},{"f":-0.122,"a":0.03},{"f":-0.121,"a":0.02},{"f":-0.12,"a":0.04},{"f":-0.119,"a":0.03},{"f":-0.118,"a":0.01},{"f":-0.117,"a":0.03},{"f":-0.116,"a":0.02},
{"f":-0.115,"a":0.04},{"f":-0.114,"a":0.02},{"f":-0.113,"a":0.03},{"f":-0.112,"a":0.01},{"f":-0.111,"a":0.04},{"f":-0.11,"a":0.02},{"f":-0.109,"a":0.03},{"f":-0.108,"a":0.05},{"f":-0.107,"a":0.02},{"f":-0.106,"a":0.03},
{"f":-0.105,"a":0.01},{"f":-0.104,"a":0.03},{"f":-0.103,"a":0.04},{"f":-0.102,"a":0.02},{"f":-0.101,"a":0.03},{"f":-0.1,"a":0.02},{"f":-0.099,"a":0.05},{"f":-0.098,"a":0.03},{"f":-0.097,"a":0.01},{"f":-0.096,"a":0.04},
{"f":-0.095,"a":0.03},{"f":-0.094,"a":0.05},{"f":-0.093,"a":0.02},{"f":-0.092,"a":0.04},{"f":-0.091,"a":0.06},{"f":-0.09,"a":0.03},{"f":-0.089,"a":0.02},{"f":-0.088,"a":0.05},{"f":-0.087,"a":0.03},{"f":-0.086,"a":0.04},
{"f":-0.085,"a":0.02},{"f":-0.084,"a":0.04},{"f":-0.083,"a":0.03},{"f":-0.082,"a":0.05},{"f":-0.081,"a":0.01},{"f":-0.08,"a":0.03},{"f":-0.079,"a":0.04},{"f":-0.078,"a":0.02},{"f":-0.077,"a":0.05},{"f":-0.076,"a":0.03},
{"f":-0.075,"a":0.04},{"f":-0.074,"a":0.06},{"f":-0.073,"a":0.02},{"f":-0.072,"a":0.04},{"f":-0.071,"a":0.03},{"f":-0.07,"a":0.05},{"f":-0.069,"a":0.02},{"f":-0.068,"a":0.04},{"f":-0.067,"a":0.03},{"f":-0.066,"a":0.05},
{"f":-0.065,"a":0.02},{"f":-0.064,"a":0.04},{"f":-0.063,"a":0.06},{"f":-0.062,"a":0.03},{"f":-0.061,"a":0.05},{"f":-0.06,"a":0.02},{"f":-0.059,"a":0.04},{"f":-0.058,"a":0.03},{"f":-0.057,"a":0.05},{"f":-0.056,"a":0.04},
{"f":-0.055,"a":0.02},{"f":-0.054,"a":0.05},{"f":-0.053,"a":0.03},{"f":-0.052,"a":0.04},{"f":-0.051,"a":0.06},{"f":-0.05,"a":0.03},{"f":-0.049,"a":0.05},{"f":-0.048,"a":0.04},{"f":-0.047,"a":0.02},{"f":-0.046,"a":0.06},
{"f":-0.045,"a":0.04},{"f":-0.044,"a":0.03},{"f":-0.043,"a":0.05},{"f":-0.042,"a":0.02},{"f":-0.041,"a":0.04},{"f":-0.04,"a":0.05},{"f":-0.039,"a":0.03},{"f":-0.038,"a":0.06},{"f":-0.037,"a":0.04},{"f":-0.036,"a":0.03},
{"f":-0.035,"a":0.05},{"f":-0.034,"a":0.03},{"f":-0.033,"a":0.06},{"f":-0.032,"a":0.04},{"f":-0.031,"a":0.02},{"f":-0.03,"a":0.05},{"f":-0.029,"a":0.04},{"f":-0.028,"a":0.06},{"f":-0.027,"a":0.03},{"f":-0.026,"a":0.05},
{"f":-0.025,"a":0.04},{"f":-0.024,"a":0.06},{"f":-0.023,"a":0.03},{"f":-0.022,"a":0.05},{"f":-0.021,"a":0.07},{"f":-0.02,"a":0.04},{"f":-0.019,"a":0.05},{"f":-0.018,"a":0.03},{"f":-0.017,"a":0.06},{"f":-0.016,"a":0.04},
{"f":-0.015,"a":0.07},{"f":-0.014,"a":0.05},{"f":-0.013,"a":0.08},{"f":-0.012,"a":0.04},{"f":-0.011,"a":0.06},
{"f":-0.01,"a":0.05},{"f":-0.0095,"a":0.02},{"f":-0.009,"a":0.07},{"f":-0.0085,"a":0.03},{"f":-0.008,"a":0.08},{"f":-0.0075,"a":0.03},{"f":-0.007,"a":0.1},{"f":-0.0065,"a":0.04},{"f":-0.006,"a":0.12},{"f":-0.0055,"a":0.05},
{"f":-0.005,"a":0.14},{"f":-0.0045,"a":0.06},{"f":-0.004,"a":0.15},{"f":-0.0035,"a":0.07},{"f":-0.003,"a":0.41},{"f":-0.0025,"a":0.08},{"f":-0.002,"a":0.17},{"f":-0.0015,"a":0.21},{"f":-0.001,"a":0.09},{"f":-0.0005,"a":0.3},
{"f":0,"a":1.0},{"f":0.0005,"a":0.67},{"f":0.001,"a":0.12},{"f":0.0015,"a":0.21},{"f":0.002,"a":0.1},{"f":0.0025,"a":0.41},{"f":0.003,"a":0.07},{"f":0.0035,"a":0.16},{"f":0.004,"a":0.15},{"f":0.0045,"a":0.06},
{"f":0.005,"a":0.13},{"f":0.0055,"a":0.05},{"f":0.006,"a":0.11},{"f":0.0065,"a":0.04},{"f":0.007,"a":0.09},{"f":0.0075,"a":0.03},{"f":0.008,"a":0.08},{"f":0.0085,"a":0.03},{"f":0.009,"a":0.06},{"f":0.0095,"a":0.02},{"f":0.01,"a":0.05},
{"f":0.011,"a":0.05},{"f":0.012,"a":0.07},{"f":0.013,"a":0.04},{"f":0.014,"a":0.06},{"f":0.015,"a":0.03},{"f":0.016,"a":0.05},{"f":0.017,"a":0.04},{"f":0.018,"a":0.06},{"f":0.019,"a":0.03},{"f":0.02,"a":0.05},
{"f":0.021,"a":0.02},{"f":0.022,"a":0.04},{"f":0.023,"a":0.03},{"f":0.024,"a":0.05},{"f":0.025,"a":0.02},{"f":0.026,"a":0.04},{"f":0.027,"a":0.03},{"f":0.028,"a":0.05},{"f":0.029,"a":0.04},{"f":0.03,"a":0.02},
{"f":0.031,"a":0.04},{"f":0.032,"a":0.03},{"f":0.033,"a":0.05},{"f":0.034,"a":0.02},{"f":0.035,"a":0.04},{"f":0.036,"a":0.06},{"f":0.037,"a":0.03},{"f":0.038,"a":0.04},{"f":0.039,"a":0.02},{"f":0.04,"a":0.05},
{"f":0.041,"a":0.03},{"f":0.042,"a":0.04},{"f":0.043,"a":0.02},{"f":0.044,"a":0.05},{"f":0.045,"a":0.03},{"f":0.046,"a":0.04},{"f":0.047,"a":0.02},{"f":0.048,"a":0.03},{"f":0.049,"a":0.05},{"f":0.05,"a":0.03},
{"f":0.051,"a":0.04},{"f":0.052,"a":0.02},{"f":0.053,"a":0.05},{"f":0.054,"a":0.03},{"f":0.055,"a":0.04},{"f":0.056,"a":0.02},{"f":0.057,"a":0.03},{"f":0.058,"a":0.05},{"f":0.059,"a":0.04},{"f":0.06,"a":0.03},
{"f":0.061,"a":0.05},{"f":0.062,"a":0.03},{"f":0.063,"a":0.04},{"f":0.064,"a":0.02},{"f":0.065,"a":0.03},{"f":0.066,"a":0.05},{"f":0.067,"a":0.02},{"f":0.068,"a":0.04},{"f":0.069,"a":0.03},{"f":0.07,"a":0.02},
{"f":0.071,"a":0.04},{"f":0.072,"a":0.03},{"f":0.073,"a":0.05},{"f":0.074,"a":0.02},{"f":0.075,"a":0.04},{"f":0.076,"a":0.03},{"f":0.077,"a":0.02},{"f":0.078,"a":0.04},{"f":0.079,"a":0.03},{"f":0.08,"a":0.05},
{"f":0.081,"a":0.02},{"f":0.082,"a":0.04},{"f":0.083,"a":0.03},{"f":0.084,"a":0.02},{"f":0.085,"a":0.04},{"f":0.086,"a":0.03},{"f":0.087,"a":0.05},{"f":0.088,"a":0.02},{"f":0.089,"a":0.03},{"f":0.09,"a":0.04},
{"f":0.091,"a":0.02},{"f":0.092,"a":0.03},{"f":0.093,"a":0.04},{"f":0.094,"a":0.02},{"f":0.095,"a":0.03},{"f":0.096,"a":0.05},{"f":0.097,"a":0.02},{"f":0.098,"a":0.04},{"f":0.099,"a":0.03},{"f":0.1,"a":0.02},
{"f":0.101,"a":0.04},{"f":0.102,"a":0.02},{"f":0.103,"a":0.03},{"f":0.104,"a":0.02},{"f":0.105,"a":0.04},{"f":0.106,"a":0.03},{"f":0.107,"a":0.01},{"f":0.108,"a":0.03},{"f":0.109,"a":0.02},{"f":0.11,"a":0.04},
{"f":0.111,"a":0.02},{"f":0.112,"a":0.03},{"f":0.113,"a":0.01},{"f":0.114,"a":0.03},{"f":0.115,"a":0.02},{"f":0.116,"a":0.04},{"f":0.117,"a":0.02},{"f":0.118,"a":0.03},{"f":0.119,"a":0.01},{"f":0.12,"a":0.03},
{"f":0.121,"a":0.02},{"f":0.122,"a":0.04},{"f":0.123,"a":0.03},{"f":0.124,"a":0.05},{"f":0.125,"a":0.02}],
"d1": [{"f":0,"n":15.9},{"f":0.025,"n":16.0},{"f":0.05,"n":16.1},{"f":0.075,"n":16.2},{"f":0.09,"n":16.4},{"f":0.1,"n":16.1},{"f":0.115,"n":15.6},{"f":0.14,"n":15.4},{"f":0.165,"n":15.5},{"f":0.19,"n":15.8},{"f":0.215,"n":15.7},{"f":0.25,"n":15.8}],
"d2": [{"f":0,"n":12.6},{"f":0.03,"n":12.5},{"f":0.06,"n":12.7},{"f":0.1,"n":12.8},{"f":0.14,"n":12.9},{"f":0.18,"n":12.8},{"f":0.22,"n":13.0},{"f":0.25,"n":13.1}],
"d3": [{"f":0,"n":12.6},{"f":0.05,"n":12.4},{"f":0.09,"n":12.7},{"f":0.14,"n":12.7},{"f":0.2,"n":12.8},{"f":0.25,"n":12.9}],
"m1": [{"n":4.0}],
"m2": [{"n":3.2}],
"m3": [{"n":3.1}]
},
"vconcat": [
{
 "width": 503, "height": 147,
 "resolve": {"axis": {"x": "independent", "y": "independent"}},
 "layer": [
  {"data": {"name": "s1"}, "mark": {"type": "line", "color": "black", "strokeWidth": 1.3, "clip": true},
   "encoding": {
    "x": {"field": "f", "type": "quantitative", "scale": {"domain": [0, 0.25], "nice": false, "zero": false},
      "axis": {"orient": "bottom", "values": [0,0.01,0.02,0.03,0.04,0.05,0.06,0.07,0.08,0.09,0.1,0.11,0.12,0.13,0.14,0.15,0.16,0.17,0.18,0.19,0.2,0.21,0.22,0.23,0.24,0.25], "labelExpr": "round(datum.value*100)%5==0 ? format(datum.value,'.2f') : ''", "tickSize": {"condition": {"test": "round(datum.value*100)%5==0", "value": -11}, "value": -5}, "labelPadding": 26, "labelFlush": false, "title": null}},
    "y": {"field": "a", "type": "quantitative", "scale": {"domain": [0, 30], "nice": false},
      "axis": {"orient": "left", "values": [0,1,2,3,4,5,6,7,8,9,10,11,12,13,14,15,16,17,18,19,20,21,22,23,24,25,26,27,28,29,30], "labelExpr": "datum.value%10==0 ? format(datum.value,'d') : ''", "tickSize": {"condition": {"test": "datum.value%10==0", "value": -11}, "value": -5}, "labelPadding": 18, "labelFlush": true, "title": "Amplitude (mma)", "titleX": -49, "titleBaseline": "alphabetic"}}
   }},
  {"data": {"name": "m1"}, "mark": {"type": "rule", "color": "white", "strokeWidth": 1.5},
   "encoding": {"y": {"field": "n", "type": "quantitative", "scale": {"domain": [0, 30], "nice": false}, "axis": null}}},
  {"data": {"name": "d1"}, "mark": {"type": "line", "color": "#333", "strokeWidth": 1, "strokeDash": [2, 3]},
   "encoding": {
    "x": {"field": "f", "type": "quantitative", "scale": {"domain": [0, 0.25], "nice": false, "zero": false},
      "axis": {"orient": "top", "values": [0,0.01,0.02,0.03,0.04,0.05,0.06,0.07,0.08,0.09,0.1,0.11,0.12,0.13,0.14,0.15,0.16,0.17,0.18,0.19,0.2,0.21,0.22,0.23,0.24,0.25], "labels": false, "tickSize": {"condition": {"test": "round(datum.value*100)%5==0", "value": -11}, "value": -5}, "title": null}},
    "y": {"field": "n", "type": "quantitative", "scale": {"domain": [0, 30], "nice": false},
      "axis": {"orient": "right", "values": [0,1,2,3,4,5,6,7,8,9,10,11,12,13,14,15,16,17,18,19,20,21,22,23,24,25,26,27,28,29,30], "labels": false, "tickSize": {"condition": {"test": "datum.value%10==0", "value": -11}, "value": -5}, "title": null}}
   }}
 ]
},
{
 "width": 503, "height": 147,
 "resolve": {"axis": {"x": "independent", "y": "independent"}},
 "layer": [
  {"data": {"name": "s2"}, "mark": {"type": "line", "color": "black", "strokeWidth": 1.3, "clip": true},
   "encoding": {
    "x": {"field": "f", "type": "quantitative", "scale": {"domain": [0, 0.25], "nice": false, "zero": false},
      "axis": {"orient": "bottom", "values": [0,0.01,0.02,0.03,0.04,0.05,0.06,0.07,0.08,0.09,0.1,0.11,0.12,0.13,0.14,0.15,0.16,0.17,0.18,0.19,0.2,0.21,0.22,0.23,0.24,0.25], "labelExpr": "round(datum.value*100)%5==0 ? format(datum.value,'.2f') : ''", "tickSize": {"condition": {"test": "round(datum.value*100)%5==0", "value": -11}, "value": -5}, "labelPadding": 26, "labelFlush": false, "title": null}},
    "y": {"field": "a", "type": "quantitative", "scale": {"domain": [0, 30], "nice": false},
      "axis": {"orient": "left", "values": [0,1,2,3,4,5,6,7,8,9,10,11,12,13,14,15,16,17,18,19,20,21,22,23,24,25,26,27,28,29,30], "labelExpr": "datum.value%10==0 ? format(datum.value,'d') : ''", "tickSize": {"condition": {"test": "datum.value%10==0", "value": -11}, "value": -5}, "labelPadding": 18, "labelFlush": true, "title": "Amplitude (mma)", "titleX": -49, "titleBaseline": "alphabetic"}}
   }},
  {"data": {"name": "m2"}, "mark": {"type": "rule", "color": "white", "strokeWidth": 1.5},
   "encoding": {"y": {"field": "n", "type": "quantitative", "scale": {"domain": [0, 30], "nice": false}, "axis": null}}},
  {"data": {"name": "d2"}, "mark": {"type": "line", "color": "#333", "strokeWidth": 1, "strokeDash": [2, 3]},
   "encoding": {
    "x": {"field": "f", "type": "quantitative", "scale": {"domain": [0, 0.25], "nice": false, "zero": false},
      "axis": {"orient": "top", "values": [0,0.01,0.02,0.03,0.04,0.05,0.06,0.07,0.08,0.09,0.1,0.11,0.12,0.13,0.14,0.15,0.16,0.17,0.18,0.19,0.2,0.21,0.22,0.23,0.24,0.25], "labels": false, "tickSize": {"condition": {"test": "round(datum.value*100)%5==0", "value": -11}, "value": -5}, "title": null}},
    "y": {"field": "n", "type": "quantitative", "scale": {"domain": [0, 30], "nice": false},
      "axis": {"orient": "right", "values": [0,1,2,3,4,5,6,7,8,9,10,11,12,13,14,15,16,17,18,19,20,21,22,23,24,25,26,27,28,29,30], "labels": false, "tickSize": {"condition": {"test": "datum.value%10==0", "value": -11}, "value": -5}, "title": null}}
   }}
 ]
},
{
 "width": 503, "height": 147,
 "resolve": {"axis": {"x": "independent", "y": "independent"}},
 "layer": [
  {"data": {"name": "s3"}, "mark": {"type": "line", "color": "black", "strokeWidth": 1.3, "clip": true},
   "encoding": {
    "x": {"field": "f", "type": "quantitative", "scale": {"domain": [0, 0.25], "nice": false, "zero": false},
      "axis": {"orient": "bottom", "values": [0,0.01,0.02,0.03,0.04,0.05,0.06,0.07,0.08,0.09,0.1,0.11,0.12,0.13,0.14,0.15,0.16,0.17,0.18,0.19,0.2,0.21,0.22,0.23,0.24,0.25], "labelExpr": "round(datum.value*100)%5==0 ? format(datum.value,'.2f') : ''", "tickSize": {"condition": {"test": "round(datum.value*100)%5==0", "value": -11}, "value": -5}, "labelPadding": 26, "labelFlush": false, "title": null}},
    "y": {"field": "a", "type": "quantitative", "scale": {"domain": [0, 30], "nice": false},
      "axis": {"orient": "left", "values": [0,1,2,3,4,5,6,7,8,9,10,11,12,13,14,15,16,17,18,19,20,21,22,23,24,25,26,27,28,29,30], "labelExpr": "datum.value%10==0 ? format(datum.value,'d') : ''", "tickSize": {"condition": {"test": "datum.value%10==0", "value": -11}, "value": -5}, "labelPadding": 18, "labelFlush": true, "title": "Amplitude (mma)", "titleX": -49, "titleBaseline": "alphabetic"}}
   }},
  {"data": {"name": "m3"}, "mark": {"type": "rule", "color": "white", "strokeWidth": 1.5},
   "encoding": {"y": {"field": "n", "type": "quantitative", "scale": {"domain": [0, 30], "nice": false}, "axis": null}}},
  {"data": {"name": "d3"}, "mark": {"type": "line", "color": "#333", "strokeWidth": 1, "strokeDash": [2, 3]},
   "encoding": {
    "x": {"field": "f", "type": "quantitative", "scale": {"domain": [0, 0.25], "nice": false, "zero": false},
      "axis": {"orient": "top", "values": [0,0.01,0.02,0.03,0.04,0.05,0.06,0.07,0.08,0.09,0.1,0.11,0.12,0.13,0.14,0.15,0.16,0.17,0.18,0.19,0.2,0.21,0.22,0.23,0.24,0.25], "labels": false, "tickSize": {"condition": {"test": "round(datum.value*100)%5==0", "value": -11}, "value": -5}, "title": null}},
    "y": {"field": "n", "type": "quantitative", "scale": {"domain": [0, 30], "nice": false},
      "axis": {"orient": "right", "values": [0,1,2,3,4,5,6,7,8,9,10,11,12,13,14,15,16,17,18,19,20,21,22,23,24,25,26,27,28,29,30], "labels": false, "tickSize": {"condition": {"test": "datum.value%10==0", "value": -11}, "value": -5}, "title": null}}
   }}
 ]
},
{
 "width": 503, "height": 147,
 "resolve": {"axis": {"x": "independent", "y": "independent"}},
 "layer": [
  {"data": {"name": "w"}, "mark": {"type": "line", "color": "black", "strokeWidth": 1.1, "clip": true},
   "encoding": {
    "x": {"field": "f", "type": "quantitative", "scale": {"domain": [-0.125, 0.125], "nice": false, "zero": false},
      "axis": {"orient": "bottom", "values": [-0.125, 0, 0.125], "format": ".3f", "tickSize": -11, "labelPadding": 26, "labelFlush": false, "title": "Frequency (c/d)", "titleY": 52, "titleBaseline": "alphabetic"}},
    "y": {"field": "a", "type": "quantitative", "scale": {"domain": [0, 1], "nice": false},
      "axis": {"orient": "left", "values": [0,0.1,0.2,0.3,0.4,0.5,0.6,0.7,0.8,0.9,1], "labelExpr": "round(datum.value*10)%5==0 ? format(datum.value,'.1f') : ''", "tickSize": {"condition": {"test": "round(datum.value*10)%5==0", "value": -11}, "value": -5}, "labelPadding": 18, "labelFlush": true, "title": "Amplitude", "titleX": -49, "titleBaseline": "alphabetic"}}
   }},
  {"data": {"name": "w"}, "mark": {"type": "line", "opacity": 0},
   "encoding": {
    "x": {"field": "f", "type": "quantitative", "scale": {"domain": [-0.125, 0.125], "nice": false, "zero": false},
      "axis": {"orient": "top", "values": [-0.125, 0, 0.125], "labels": false, "tickSize": -11, "title": null}},
    "y": {"field": "a", "type": "quantitative", "scale": {"domain": [0, 1], "nice": false},
      "axis": {"orient": "right", "values": [0,0.1,0.2,0.3,0.4,0.5,0.6,0.7,0.8,0.9,1], "labels": false, "tickSize": {"condition": {"test": "round(datum.value*10)%5==0", "value": -11}, "value": -5}, "title": null}}
   }}
 ]
}
]
}
